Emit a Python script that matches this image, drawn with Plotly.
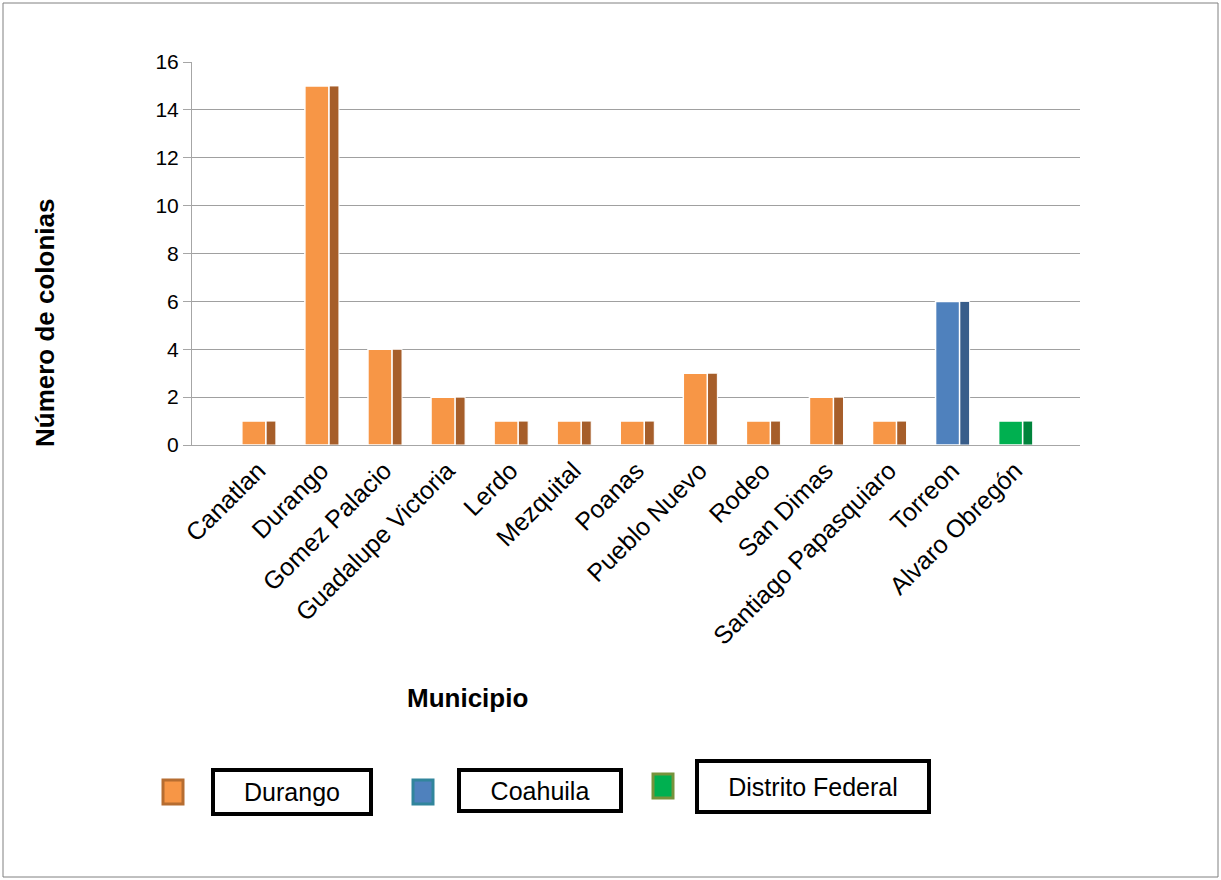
import plotly.graph_objects as go

categories = ["Canatlan", "Durango", "Gomez Palacio", "Guadalupe Victoria", "Lerdo",
              "Mezquital", "Poanas", "Pueblo Nuevo", "Rodeo", "San Dimas",
              "Santiago Papasquiaro", "Torreon", "Alvaro Obregón"]
values = [1, 15, 4, 2, 1, 1, 1, 3, 1, 2, 1, 6, 1]
states = ["Durango"] * 11 + ["Coahuila", "Distrito Federal"]
state_names = ["Durango", "Coahuila", "Distrito Federal"]
y_ticks = [0, 2, 4, 6, 8, 10, 12, 14, 16]

face_colors = {"Durango": "#F79646", "Coahuila": "#4F81BD", "Distrito Federal": "#00B050"}
side_colors = {"Durango": "#A65E2A", "Coahuila": "#385D8A", "Distrito Federal": "#00843C"}
swatch_border = {"Durango": "#B66D31", "Coahuila": "#31859C", "Distrito Federal": "#77933C"}

W, H = 1221, 880
L, R_pix, T, B_pix = 192, 1080, 62, 445
PW, PH = R_pix - L, B_pix - T


def px(x):
    return (x - L) / PW


def py(y):
    return (B_pix - y) / PH


fig = go.Figure()
for st in state_names:
    ys = [v if s == st else None for v, s in zip(values, states)]
    fig.add_trace(go.Bar(x=categories, y=ys, name=st + " lado", offset=0.12, width=0.16,
                         marker=dict(color=side_colors[st], line=dict(color="white", width=1)),
                         showlegend=False, hoverinfo="skip"))
    fig.add_trace(go.Bar(x=categories, y=ys, name=st, offset=-0.26, width=0.38,
                         marker=dict(color=face_colors[st], line=dict(color="white", width=1.5)),
                         showlegend=False))

fig.update_layout(
    width=W, height=H, barmode="overlay",
    margin=dict(l=L, r=W - R_pix, t=T, b=H - B_pix),
    paper_bgcolor="white", plot_bgcolor="white",
    font=dict(family="Liberation Sans, Arial, sans-serif", size=18, color="black"),
    xaxis=dict(type="category", categoryorder="array", categoryarray=categories,
               range=[-1.05, 13.03], tickangle=-45, showgrid=False, showline=True,
               linecolor="#A6A6A6", linewidth=1, ticks="", tickfont=dict(size=25)),
    yaxis=dict(range=[0, 16], tickvals=y_ticks, showgrid=True, gridcolor="#A0A0A0",
               gridwidth=1, showline=True, linecolor="#A6A6A6", ticks="outside",
               ticklen=8, tickcolor="#A6A6A6", zeroline=False, tickfont=dict(size=21)),
)

annotations = [
    dict(text="<b>Número de colonias</b>", x=px(45), y=py(323), xref="paper", yref="paper",
         xanchor="center", yanchor="middle", textangle=-90, showarrow=False,
         font=dict(size=26)),
    dict(text="<b>Municipio</b>", x=px(467), y=py(698), xref="paper", yref="paper",
         xanchor="center", yanchor="middle", showarrow=False, font=dict(size=26)),
]
legend_items = [
    ("Durango", 173, 792, 292, 792, 152, 38),
    ("Coahuila", 423, 792, 540, 791, 156, 35),
    ("Distrito Federal", 663, 786, 813, 786, 226, 45),
]
shapes = [dict(type="rect", xref="paper", yref="paper", x0=px(3), x1=px(1218),
               y0=py(3), y1=py(877), line=dict(color="#808080", width=1), layer="below")]
for st, sx, sy, tx, ty, bw, bh in legend_items:
    shapes.append(dict(type="rect", xref="paper", yref="paper",
                       x0=px(sx - 10), x1=px(sx + 10), y0=py(sy + 12), y1=py(sy - 12),
                       fillcolor=face_colors[st], line=dict(color=swatch_border[st], width=3)))
    annotations.append(dict(text=st, x=px(tx), y=py(ty), xref="paper", yref="paper",
                            xanchor="center", yanchor="middle", showarrow=False,
                            width=bw, height=bh, bordercolor="black", borderwidth=4,
                            font=dict(size=25), bgcolor="white"))
fig.update_layout(annotations=annotations, shapes=shapes)

fig.write_html("out.html")
